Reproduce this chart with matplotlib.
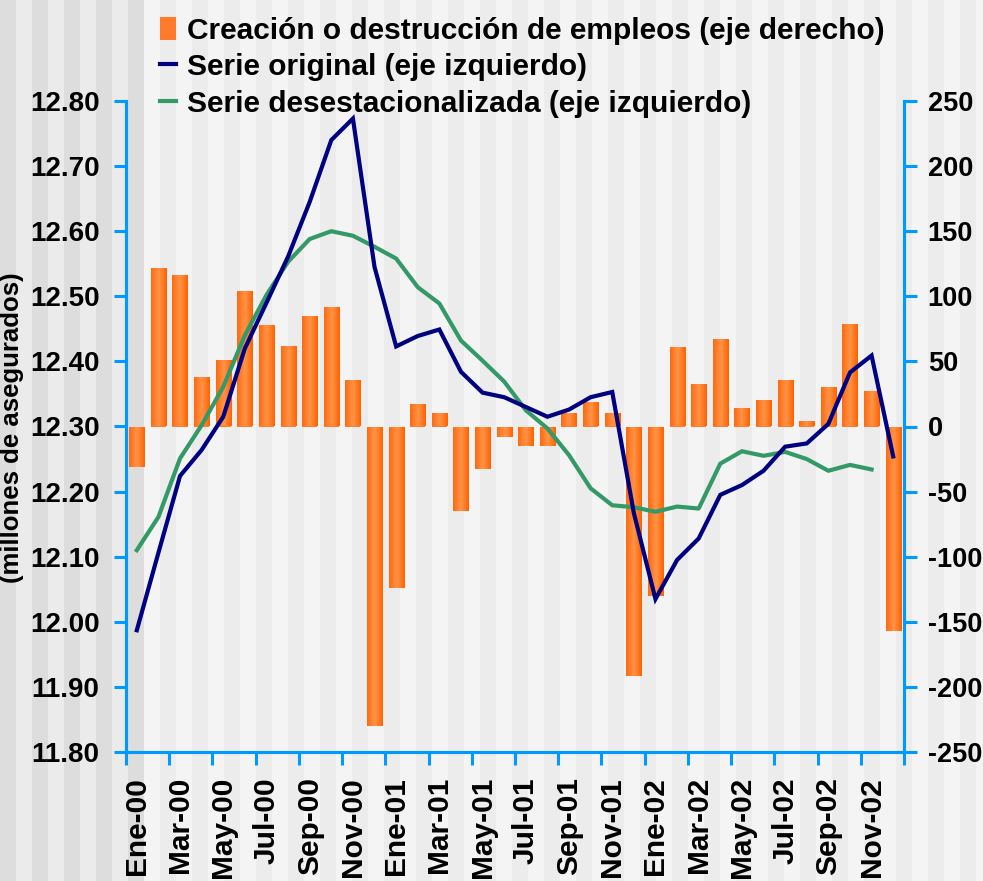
import matplotlib
matplotlib.use("Agg")
import matplotlib.pyplot as plt
import numpy as np
from matplotlib.patches import Rectangle, Patch
from matplotlib.lines import Line2D
from matplotlib.colors import LinearSegmentedColormap

plt.rcParams['font.family'] = ['Liberation Sans', 'DejaVu Sans']
plt.rcParams['font.weight'] = 'bold'

months = ["Ene", "Feb", "Mar", "Abr", "May", "Jun", "Jul", "Ago", "Sep", "Oct", "Nov", "Dic"]
years = ["00", "01", "02"]
categories = [f"{m}-{y}" for y in years for m in months]

empleos = [-31, 122, 116, 38, 51, 104, 78, 62, 85, 92, 36, -230,
           -124, 17, 10, -65, -33, -8, -15, -15, 10, 19, 10, -192,
           -130, 61, 33, 67, 14, 20, 36, 4, 30, 79, 27, -157]

serie_original = [11.987, 12.106, 12.224, 12.264, 12.315, 12.420, 12.490, 12.561, 12.645, 12.740, 12.773, 12.545,
                  12.423, 12.439, 12.449, 12.384, 12.352, 12.345, 12.330, 12.315, 12.326, 12.345, 12.353, 12.167,
                  12.035, 12.095, 12.128, 12.195, 12.210, 12.232, 12.269, 12.274, 12.304, 12.383, 12.409, 12.254]

serie_desest = [12.110, 12.161, 12.251, 12.302, 12.361, 12.440, 12.502, 12.553, 12.588, 12.600, 12.593, 12.576,
                12.558, 12.514, 12.489, 12.432, 12.401, 12.369, 12.325, 12.297, 12.256, 12.205, 12.179, 12.176,
                12.169, 12.177, 12.174, 12.243, 12.262, 12.255, 12.261, 12.250, 12.232, 12.241, 12.234]

left_ticks = [11.80, 11.90, 12.00, 12.10, 12.20, 12.30, 12.40, 12.50, 12.60, 12.70, 12.80]
right_ticks = [-250, -200, -150, -100, -50, 0, 50, 100, 150, 200, 250]

labels_legend = ["Creación o destrucción de empleos (eje derecho)",
                 "Serie original (eje izquierdo)",
                 "Serie desestacionalizada (eje izquierdo)"]

W, H = 983, 881
fig = plt.figure(figsize=(W / 100, H / 100), dpi=100)
fig.patch.set_facecolor('#f4f4f4')

# striped background
stripe = 16.0
n_str = int(W / stripe) + 2
for k in range(n_str):
    x0 = k * stripe
    if x0 < 143:
        c = '#dddddd' if k % 2 == 0 else '#ebebeb'
    else:
        c = '#f4f4f4' if k % 2 == 1 else '#ececec'
    fig.patches.append(Rectangle((x0 / W, 0), stripe / W, 1, transform=fig.transFigure,
                                 facecolor=c, edgecolor='none', zorder=-10))

axL, axR, axT, axB = 126, 904, 101, 752
ax = fig.add_axes([axL / W, 1 - axB / H, (axR - axL) / W, (axB - axT) / H])
ax2 = ax.twinx()
ax.set_zorder(ax2.get_zorder() + 1)
ax.patch.set_visible(False)
ax2.patch.set_visible(False)

x = np.arange(len(categories))
bars = ax2.bar(x, empleos, width=0.7, color='#ff7a2a', edgecolor='none', zorder=2)

cmap = LinearSegmentedColormap.from_list('org', ['#ff6a10', '#ff9448', '#ff6200'])
grad = np.linspace(0, 1, 64).reshape(1, -1)
for r in bars:
    x0, y0, w, h = r.get_x(), r.get_y(), r.get_width(), r.get_height()
    im = ax2.imshow(grad, cmap=cmap, aspect='auto', extent=[x0, x0 + w, y0, y0 + h],
                    zorder=3, interpolation='bilinear')
    im.set_clip_path(r)

ax.plot(x, serie_original, color='#000080', lw=3.0, zorder=5, solid_joinstyle='miter')
ax.plot(x[:len(serie_desest)], serie_desest, color='#339966', lw=3.0, zorder=4)

ax.set_xlim(-0.5, len(categories) - 0.5)
ax.set_ylim(11.80, 12.80)
ax2.set_ylim(-250, 250)
ax.set_yticks(left_ticks)
ax.set_yticklabels([f"{v:.2f}" for v in left_ticks])
ax2.set_yticks(right_ticks)
ax2.set_yticklabels([str(v) for v in right_ticks])

ax.set_xticks(np.arange(-0.5, len(categories), 2))
ax.set_xticklabels([])
ax.set_xticks(x[::2], minor=True)
ax.set_xticklabels(categories[::2], minor=True, rotation=90, fontsize=21.5, fontweight='bold')
ax.tick_params(axis='x', which='minor', length=0, pad=18)
ax.tick_params(axis='x', which='major', length=9, width=2.2, color='#0099ff', direction='out')

blue = '#0099ff'
for a in (ax, ax2):
    for s in ['top']:
        a.spines[s].set_visible(False)
    for s in ['left', 'right', 'bottom']:
        a.spines[s].set_color(blue)
        a.spines[s].set_linewidth(2.2)
ax.tick_params(axis='y', length=9, width=2.2, color=blue, labelsize=20, pad=10)
ax2.tick_params(axis='y', length=9, width=2.2, color=blue, labelsize=19.5, pad=8)
for lab in ax.get_yticklabels() + ax2.get_yticklabels():
    lab.set_fontweight('bold')

fig.text(12 / W, 1 - 428 / H, "(millones de asegurados)", rotation=90, ha='center', va='center',
         fontsize=18.5, fontweight='bold')

handles = [Patch(facecolor='#ff7a2a', edgecolor='none'),
           Line2D([0], [0], color='#000080', lw=3),
           Line2D([0], [0], color='#339966', lw=3)]
fig.legend(handles, labels_legend, loc='upper left', bbox_to_anchor=(160 / W, 1 - 17 / H),
           frameon=False, handlelength=0.55, handleheight=0.8, handletextpad=0.35,
           labelspacing=0.28, borderaxespad=0, borderpad=0,
           prop={'weight': 'bold', 'size': 21.5})

fig.savefig("out.png", dpi=100)
